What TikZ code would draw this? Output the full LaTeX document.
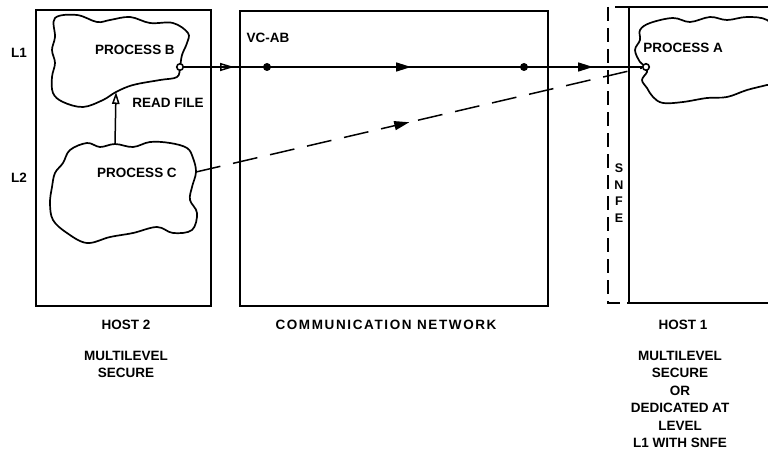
\documentclass[tikz,border=0pt]{standalone}
\usepackage{fontspec}
\setmainfont{Liberation Sans}
\usetikzlibrary{arrows.meta,decorations.markings}

\begin{document}
\begin{tikzpicture}[x=1pt,y=-1pt,
  lbl/.style={font=\bfseries\fontsize{13.5}{17.5}\selectfont, inner sep=0pt, align=center},
  small/.style={font=\bfseries\fontsize{12.5}{16.5}\selectfont, inner sep=0pt, align=center},
  boxline/.style={draw, line width=1.8pt, inner sep=0pt, outer sep=0pt},
  cloudline/.style={line width=1.7pt, line join=round},
  conn/.style={line width=1.5pt},
  dot/.style={circle, fill=black, inner sep=0pt, minimum size=8pt},
  port/.style={circle, draw, fill=white, line width=1.6pt, inner sep=0pt, minimum size=6.5pt},
  tipfill/.tip={Triangle[length=15pt,width=9pt]},
  tipopen/.tip={Triangle[open,length=14pt,width=8pt]},
  ]
\useasboundingbox (0,0) rectangle (768,460);
\clip (0,0) rectangle (768,460);

% hosts and network
\node[boxline, anchor=north west, minimum width=175pt, minimum height=296pt] (host2) at (36,10) {};
\node[boxline, anchor=north west, minimum width=308pt, minimum height=295pt] (net) at (240,11) {};
\node[boxline, anchor=north west, minimum width=170pt, minimum height=296pt] (host1) at (629,7) {};
% SNFE strip in front of host 1
\draw[line width=1.4pt, dash pattern=on 14pt off 7pt] (host1.north west) -- (608,7) -- (608,303) -- (host1.south west);

% process clouds
\draw[cloudline] plot[smooth cycle, tension=0.6] coordinates {
  (55,18) (77,15) (97,22) (110,20) (130,17) (150,23) (173,23) (188,33) (187,43)
  (182,55) (180,67) (177,77) (160,80) (133,85) (116,92) (103,100) (83,107) (63,102)
  (53,93) (52,77) (55,63) (52,50) (55,37)};
\draw[cloudline] plot[smooth cycle, tension=0.6] coordinates {
  (70,150) (87,143) (100,147) (115,144) (133,147) (150,142) (170,143) (187,148)
  (193,158) (196,172) (192,187) (190,200) (197,213) (192,230) (173,233) (157,227)
  (133,233) (110,237) (87,243) (67,233) (53,220) (50,203) (52,187) (55,173) (63,163)};
\draw[cloudline] plot[smooth cycle, tension=0.6] coordinates {
  (640,30) (650,23) (673,18) (690,22) (710,17) (727,20) (747,17) (767,20) (778,35)
  (774,60) (778,82) (767,85) (747,90) (727,97) (707,98) (683,102) (663,103) (653,97)
  (647,88) (642,80) (647,72) (646,67) (640,62) (635,50) (640,40)};

\coordinate (cTop) at (115,144);
\coordinate (bBot) at (116,92);
\coordinate (pC) at (196,172);

% ports
\node[port] (pB) at (180,67) {};
\node[port] (pA) at (646,67) {};

% virtual circuit VC-AB
\draw[conn, postaction={decorate}, decoration={markings,
  mark=at position 50pt with {\arrow{tipopen}},
  mark=at position 227pt with {\arrow{tipfill}},
  mark=at position 409pt with {\arrow{tipfill}}}] (pB) -- (pA);
\node[dot] (d1) at (267,67) {};
\node[dot] (d2) at (524,67) {};

% covert path from process C
\draw[conn, dash pattern=on 25pt off 13pt, postaction={decorate}, decoration={markings,
  mark=at position 219pt with {\arrow{tipfill}}}] (pC) -- (pA);

% read file
\draw[conn, -{Triangle[open,length=12pt,width=7.5pt]}] (cTop) -- (bBot);

% labels
\node[lbl] (l1) at (19,53) {L1};
\node[lbl] (l2) at (19,178) {L2};
\node[lbl] (procB) at (135,50) {PROCESS B};
\node[lbl] (procC) at (137,173) {PROCESS C};
\node[lbl] (procA) at (683,48) {PROCESS A};
\node[lbl] (vcab) at (268,38) {VC-AB};
\node[lbl] (rf) at (168,103) {READ FILE};
\node[small] (snfe) at (619,193) {S\\N\\F\\E};

\node[lbl] (h2) at (126,325) {HOST 2};
\node[lbl] (cn) at (386,325) {\addfontfeature{LetterSpace=12}COMMUNICATION NETWORK};
\node[lbl] (h1) at (683,325) {HOST 1};
\node[lbl, anchor=north] (h2d) at (126,351) {MULTILEVEL\\SECURE};
\node[lbl, anchor=north] (h1d) at (680,351) {MULTILEVEL\\SECURE\\OR\\DEDICATED AT\\LEVEL\\L1 WITH SNFE};
\end{tikzpicture}
\end{document}
